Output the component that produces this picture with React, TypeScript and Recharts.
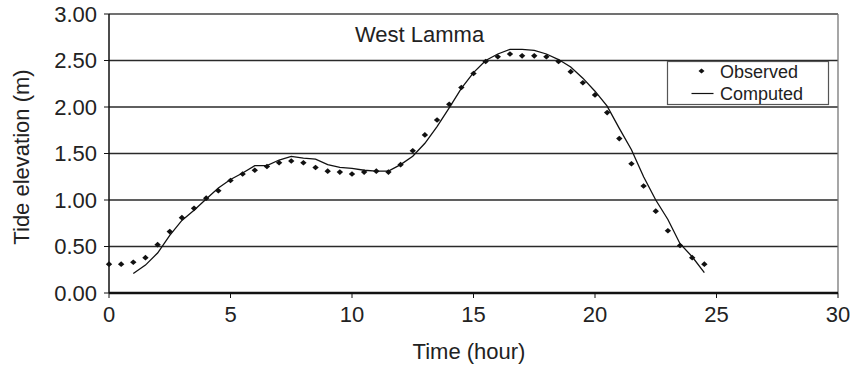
import { ComposedChart, Line, Scatter, XAxis, YAxis, CartesianGrid, ReferenceLine, Customized } from 'recharts'

// observed every half hour from 0 to 24.5
const OBS_TIMES = [
  0, 0.5, 1, 1.5, 2, 2.5, 3, 3.5, 4, 4.5, 5, 5.5, 6, 6.5, 7, 7.5, 8, 8.5, 9, 9.5,
  10, 10.5, 11, 11.5, 12, 12.5, 13, 13.5, 14, 14.5, 15, 15.5, 16, 16.5, 17, 17.5, 18, 18.5, 19, 19.5,
  20, 20.5, 21, 21.5, 22, 22.5, 23, 23.5, 24, 24.5,
]
const OBSERVED = [
  0.31, 0.31, 0.33, 0.38, 0.52, 0.66, 0.81, 0.91, 1.02, 1.10, 1.21, 1.28, 1.32, 1.36, 1.40, 1.42, 1.40, 1.35, 1.31, 1.30,
  1.28, 1.30, 1.31, 1.30, 1.38, 1.53, 1.70, 1.86, 2.03, 2.21, 2.36, 2.49, 2.54, 2.57, 2.55, 2.55, 2.54, 2.49, 2.38, 2.26,
  2.13, 1.94, 1.66, 1.39, 1.15, 0.88, 0.67, 0.51, 0.38, 0.31,
]
// computed starts at hour 1
const COMPUTED = [
  null, null, 0.21, 0.30, 0.43, 0.62, 0.78, 0.89, 1.01, 1.13, 1.22, 1.29, 1.37, 1.37, 1.43, 1.47, 1.45, 1.44, 1.38, 1.35,
  1.34, 1.32, 1.31, 1.31, 1.38, 1.47, 1.61, 1.79, 1.99, 2.20, 2.37, 2.50, 2.57, 2.62, 2.62, 2.61, 2.57, 2.51, 2.43, 2.31,
  2.17, 2.01, 1.77, 1.54, 1.25, 1.00, 0.79, 0.53, 0.39, 0.22,
]
const X_TICKS = [0, 5, 10, 15, 20, 25, 30]
const Y_TICKS = [0, 0.5, 1, 1.5, 2, 2.5, 3]

const FONT = 'Liberation Sans, Arial, sans-serif'
const INK = '#222'

const data = OBS_TIMES.map((t, i) => ({ t, obs: OBSERVED[i], comp: COMPUTED[i] }))

const Diamond = (props: any) => {
  const { cx, cy } = props
  if (cx == null || cy == null) return null
  return <polygon points={`${cx - 3.2},${cy} ${cx},${cy - 2.8} ${cx + 3.2},${cy} ${cx},${cy + 2.8}`} fill="#111" />
}

// legend box drawn in svg so it doesn't eat plot space
const LegendBox = () => (
  <g fontFamily={FONT} fontSize={18} fill={INK}>
    <rect x={667.5} y={61.5} width={161} height={43} fill="#fff" stroke="#555" strokeWidth={1.2} />
    <polygon points="698.5,71 701.5,68.5 704.5,71 701.5,73.5" fill="#111" />
    <text x={720} y={78}>Observed</text>
    <line x1={691.5} x2={713.5} y1={93.5} y2={93.5} stroke="#111" strokeWidth={1.2} />
    <text x={720} y={99.5}>Computed</text>
  </g>
)

const Title = () => (
  <text x={355} y={41.5} fontFamily={FONT} fontSize={22} fill={INK}>West Lamma</text>
)

const AxisTitles = () => (
  <g fontFamily={FONT} fontSize={22} fill={INK}>
    <text x={469} y={359} textAnchor="middle">Time (hour)</text>
    <text x={29} y={157} textAnchor="middle" transform="rotate(-90 29 157)">Tide elevation (m)</text>
  </g>
)

export default function App() {
  return (
    <div style={{ position: 'absolute', left: 0, top: 0, background: '#fff' }}>
      <ComposedChart width={857} height={371} data={data} margin={{ top: 14, right: 19, left: 30, bottom: 48 }}>
        <CartesianGrid vertical={false} stroke="#2a2a2a" strokeWidth={1.3} />
        <XAxis
          dataKey="t"
          type="number"
          domain={[0, 30]}
          ticks={X_TICKS}
          interval={0}
          height={30}
          tick={{ fontSize: 22, fill: INK, fontFamily: FONT }}
          tickSize={5}
          tickMargin={8}
          axisLine={{ stroke: '#111', strokeWidth: 2.5 }}
          tickLine={{ stroke: '#111' }}
        />
        <YAxis
          type="number"
          domain={[0, 3]}
          ticks={Y_TICKS}
          interval={0}
          width={79}
          tickFormatter={(v: number) => v.toFixed(2)}
          tick={{ fontSize: 22, fill: INK, fontFamily: FONT }}
          tickSize={5}
          tickMargin={7}
          axisLine={{ stroke: '#111', strokeWidth: 1.5 }}
          tickLine={{ stroke: '#111' }}
        />
        <ReferenceLine y={3} stroke="#777" strokeWidth={1.3} />
        <ReferenceLine x={30} stroke="#777" strokeWidth={1.3} />
        <Line
          dataKey="comp"
          type="linear"
          stroke="#111"
          strokeWidth={1.3}
          dot={false}
          activeDot={false}
          isAnimationActive={false}
        />
        <Scatter dataKey="obs" shape={<Diamond />} isAnimationActive={false} />
        <Customized component={<LegendBox />} />
        <Customized component={<Title />} />
        <Customized component={<AxisTitles />} />
      </ComposedChart>
    </div>
  )
}
